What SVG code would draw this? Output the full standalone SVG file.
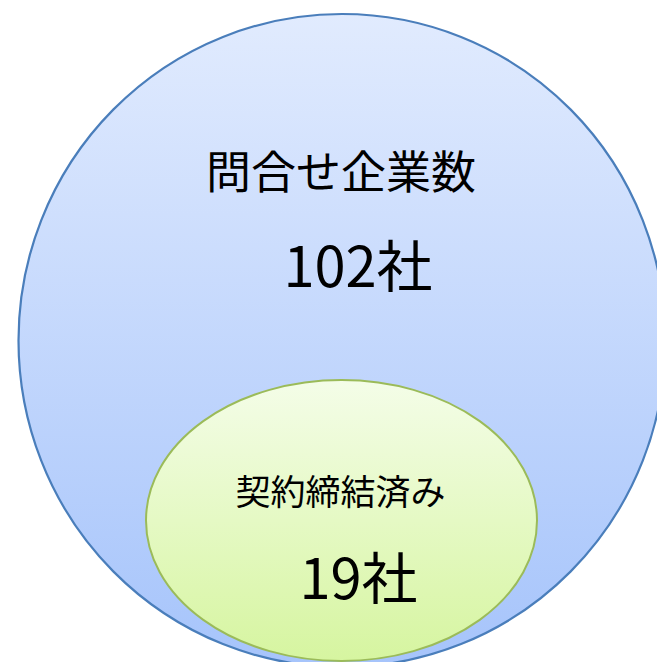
<svg xmlns="http://www.w3.org/2000/svg" width="657" height="662" viewBox="0 0 657 662">
  <defs>
    <linearGradient id="gBlue" x1="0" y1="0" x2="0" y2="1">
      <stop offset="0" stop-color="#e1ebfe"/>
      <stop offset="1" stop-color="#a6c4fb"/>
    </linearGradient>
    <linearGradient id="gGreen" x1="0" y1="0" x2="0" y2="1">
      <stop offset="0" stop-color="#f4fde8"/>
      <stop offset="1" stop-color="#d6f5a0"/>
    </linearGradient>
  </defs>
  <style>
    text { font-family: "Noto Sans CJK JP", "Noto Sans", sans-serif; fill: #000; text-anchor: middle; }
    .t1 { font-size: 45px; }
    .t2 { font-size: 35px; }
    .n { font-size: 56px; }
  </style>
  <rect width="657" height="662" fill="#ffffff"/>
  <g id="inquiries">
    <ellipse cx="342" cy="340.5" rx="323.5" ry="326.5" fill="url(#gBlue)" stroke="#4a7ebb" stroke-width="2.2"/>
    <text class="t1" x="341" y="189">問合せ企業数</text>
    <text class="n" x="358" y="287">102社</text>
  </g>
  <g id="contracted">
    <ellipse cx="341.5" cy="520.5" rx="195.5" ry="140.5" fill="url(#gGreen)" stroke="#9bbb59" stroke-width="2"/>
    <text class="t2" x="340.5" y="504.5">契約締結済み</text>
    <text class="n" x="358.5" y="599">19社</text>
  </g>
  <g id="connectors"/>
</svg>
